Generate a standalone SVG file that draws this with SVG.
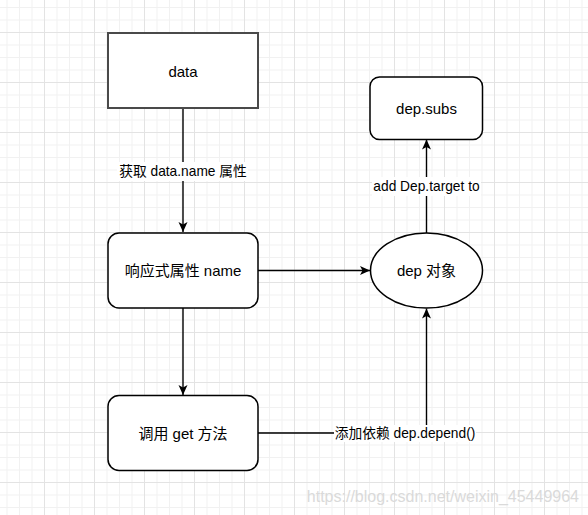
<svg xmlns="http://www.w3.org/2000/svg" width="588" height="515" viewBox="0 0 588 515">
  <defs>
    <pattern id="grid" patternUnits="userSpaceOnUse" x="44" y="32" width="50" height="50">
      <path d="M13 0V50M25.5 0V50M38 0V50M0 13H50M0 25.5H50M0 38H50" stroke="#f1f1f1" stroke-width="1" fill="none"/>
      <path d="M0.5 0V50M0 0.5H50" stroke="#e3e3e3" stroke-width="1" fill="none"/>
    </pattern>
    <marker id="arrow" viewBox="0 0 10 10" refX="10" refY="5" markerWidth="10" markerHeight="10" markerUnits="userSpaceOnUse" orient="auto">
      <path d="M0 0.5L10 5L0 9.5L2.5 5Z" fill="#000"/>
    </marker>
    <style>
      .node { fill: #fff; stroke: #000; stroke-width: 1.5; }
      .edge { fill: none; stroke: #000; stroke-width: 1.4; }
      .t { font-family: "Liberation Sans", "Noto Sans CJK SC", Arial, sans-serif; font-size: 15px; fill: #000; text-anchor: middle; }
      .lbl { font-family: "Liberation Sans", "Noto Sans CJK SC", Arial, sans-serif; font-size: 13.75px; fill: #000; text-anchor: middle; }
      .lblbg { fill: #fff; }
    </style>
  </defs>
  <rect width="588" height="515" fill="#fff"/>
  <rect width="588" height="515" fill="url(#grid)"/>

  <g id="connectors">
    <path class="edge" d="M183 108V232" marker-end="url(#arrow)"/>
    <path class="edge" d="M258 270.5H370" marker-end="url(#arrow)"/>
    <path class="edge" d="M183 308V395" marker-end="url(#arrow)"/>
    <path class="edge" d="M258 433H426.5V308.5" marker-end="url(#arrow)"/>
    <path class="edge" d="M426.5 233V139.5" marker-end="url(#arrow)"/>
    <rect class="lblbg" x="117" y="162" width="131" height="19"/>
    <text class="lbl" x="183" y="176">获取 data.name 属性</text>
    <rect class="lblbg" x="372" y="177" width="109" height="19"/>
    <text class="lbl" x="426.5" y="190.5">add Dep.target to</text>
    <rect class="lblbg" x="334" y="425" width="142" height="17"/>
    <text class="lbl" x="405" y="438">添加依赖 dep.depend()</text>
  </g>

  <g id="node-data">
    <rect x="108" y="33" width="150" height="75" fill="#fff" stroke="#4a4a4a" stroke-width="2"/>
    <text class="t" x="183" y="77">data</text>
  </g>
  <g id="node-reactive">
    <rect class="node" x="108" y="233" width="150" height="75" rx="11" ry="11"/>
    <text class="t" x="183" y="276">响应式属性 name</text>
  </g>
  <g id="node-get">
    <rect class="node" x="108" y="395.5" width="150" height="75" rx="11" ry="11"/>
    <text class="t" x="183" y="438.5">调用 get 方法</text>
  </g>
  <g id="node-dep">
    <ellipse class="node" cx="426.5" cy="270.5" rx="56" ry="37.5"/>
    <text class="t" x="426.5" y="276">dep 对象</text>
  </g>
  <g id="node-subs">
    <rect class="node" x="370" y="77" width="112.5" height="62.5" rx="9.5" ry="9.5"/>
    <text class="t" x="426.5" y="114">dep.subs</text>
  </g>

  <text x="579" y="502" font-family="Liberation Sans, Arial, sans-serif" font-size="16" fill="#dadada" text-anchor="end">https://blog.csdn.net/weixin_45449964</text>
</svg>
